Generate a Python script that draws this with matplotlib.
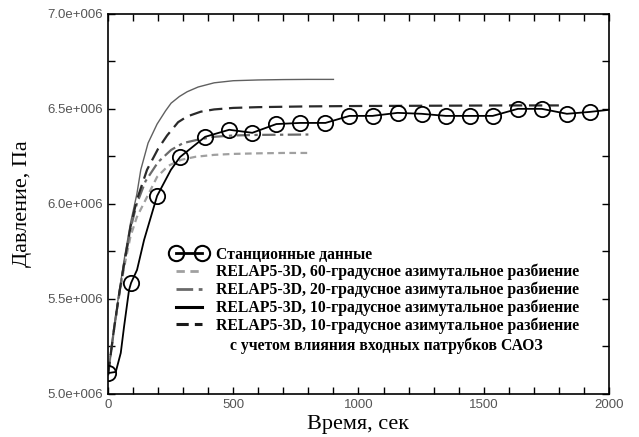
import matplotlib
matplotlib.use("Agg")
import matplotlib.pyplot as plt
from matplotlib.lines import Line2D
from matplotlib.ticker import FuncFormatter, MultipleLocator

# --- data (time in s, pressure in units of 1e6 Pa) ---------------------------
station_t = [0, 92, 196, 288, 388, 484, 576, 672, 768, 868, 964, 1056, 1156,
             1252, 1348, 1444, 1536, 1636, 1732, 1832, 1924]
station_p = [5.11, 5.584, 6.042, 6.247, 6.353, 6.39, 6.374, 6.42, 6.426, 6.426,
             6.463, 6.463, 6.479, 6.474, 6.463, 6.463, 6.463, 6.50, 6.50,
             6.474, 6.484]

# station curve drawn between the markers (extra points)
station_line_t = [0, 31, 51, 64, 84, 92, 116, 144, 196, 251, 288, 388, 484, 576,
                  672, 768, 868, 964, 1056, 1156, 1252, 1348, 1444, 1536, 1636,
                  1732, 1832, 1924, 2000]
station_line_p = [5.11, 5.116, 5.216, 5.353, 5.547, 5.584, 5.653, 5.81, 6.042,
                  6.179, 6.247, 6.353, 6.39, 6.374, 6.42, 6.426, 6.426, 6.463,
                  6.463, 6.479, 6.474, 6.463, 6.463, 6.463, 6.50, 6.50, 6.474,
                  6.484, 6.495]

deg60_t = [0, 25, 45, 65, 90, 115, 156, 196, 240, 292, 350, 424, 500, 600, 700, 800]
deg60_p = [5.10, 5.35, 5.52, 5.67, 5.83, 5.93, 6.037, 6.142, 6.20, 6.232, 6.248,
           6.258, 6.263, 6.266, 6.268, 6.268]

deg20_t = [0, 25, 45, 65, 90, 115, 150, 200, 252, 300, 356, 424, 500, 600, 700, 800]
deg20_p = [5.10, 5.35, 5.53, 5.69, 5.87, 6.00, 6.12, 6.22, 6.284, 6.32, 6.337,
           6.353, 6.36, 6.363, 6.364, 6.365]

deg10_t = [0, 10, 25, 45, 65, 90, 115, 131, 160, 196, 230, 252, 285, 316, 360,
           424, 500, 600, 700, 800, 900]
deg10_p = [5.10, 5.20, 5.36, 5.54, 5.71, 5.90, 6.05, 6.18, 6.32, 6.42, 6.49,
           6.53, 6.565, 6.59, 6.615, 6.637, 6.648, 6.652, 6.654, 6.655, 6.655]

saoz_t = [0, 25, 45, 65, 90, 115, 156, 200, 236, 280, 316, 370, 424, 500, 600,
          800, 1000, 1200, 1400, 1600, 1800]
saoz_p = [5.10, 5.35, 5.53, 5.69, 5.88, 6.02, 6.18, 6.29, 6.36, 6.43, 6.46,
          6.485, 6.497, 6.505, 6.509, 6.513, 6.515, 6.516, 6.517, 6.518, 6.518]

labels = [
    "Станционные данные",
    "RELAP5-3D, 60-градусное азимутальное разбиение",
    "RELAP5-3D, 20-градусное азимутальное разбиение",
    "RELAP5-3D, 10-градусное азимутальное разбиение",
    "RELAP5-3D, 10-градусное азимутальное разбиение",
]
label_tail = "с учетом влияния входных патрубков САОЗ"


def sci3(v, _pos):
    # 7.0e+006 style labels
    return f"{v:.1f}e+006"


fig = plt.figure(figsize=(6.39, 4.37), dpi=100)
ax = fig.add_axes([0.169, 0.0984, 0.784, 0.870])

ax.plot(deg60_t, deg60_p, color="#a0a0a0", lw=1.6, dashes=(3, 2))
ax.plot(deg20_t, deg20_p, color="#6a6a6a", lw=1.6, dashes=(6, 2, 1.5, 2))
ax.plot(deg10_t, deg10_p, color="#606060", lw=1.0)
ax.plot(saoz_t, saoz_p, color="#2a2a2a", lw=1.6, dashes=(6, 3))
ax.plot(station_line_t, station_line_p, color="black", lw=1.3)
ax.plot(station_t, station_p, ls="none", marker="o", ms=11, mfc="none",
        mec="black", mew=1.3)

ax.set_xlim(0, 2000)
ax.set_ylim(5.0, 7.0)
ax.xaxis.set_major_locator(MultipleLocator(500))
ax.xaxis.set_minor_locator(MultipleLocator(100))
ax.yaxis.set_major_locator(MultipleLocator(0.5))
ax.yaxis.set_minor_locator(MultipleLocator(0.25))
ax.yaxis.set_major_formatter(FuncFormatter(sci3))
ax.tick_params(which="both", direction="in", top=True, right=True,
               labelsize=9.5, labelcolor="#555555", width=1.0, length=5)
for lab in ax.get_xticklabels() + ax.get_yticklabels():
    lab.set_fontfamily("Liberation Sans")
for sp in ax.spines.values():
    sp.set_linewidth(1.2)

ax.set_xlabel("Время, сек", fontfamily="Liberation Serif", fontsize=16, labelpad=3)
ax.set_ylabel("Давление, Па", fontfamily="Liberation Serif", fontsize=16, labelpad=11)

handles = [
    Line2D([], [], color="black", lw=2, marker="o", ms=11, mfc="none",
           mec="black", mew=1.5, markevery=[0, 1]),
    Line2D([], [], color="#a0a0a0", lw=2, dashes=(3, 2)),
    Line2D([], [], color="#6a6a6a", lw=2, dashes=(6, 2, 1.5, 2)),
    Line2D([], [], color="black", lw=2.2),
    Line2D([], [], color="#1a1a1a", lw=2.2, dashes=(4, 2)),
]
leg = ax.legend(handles, labels, loc="upper left", bbox_to_anchor=(0.11, 0.408),
                frameon=False, borderpad=0, handlelength=2.3, handletextpad=0.6,
                labelspacing=0.08, numpoints=2,
                prop={"family": "Liberation Serif", "weight": "bold", "size": 11.3})
ax.text(0.2435, 0.128, label_tail, transform=ax.transAxes, ha="left", va="center",
        fontfamily="Liberation Serif", fontweight="bold", fontsize=11.3)

fig.savefig("out.png", dpi=100)
